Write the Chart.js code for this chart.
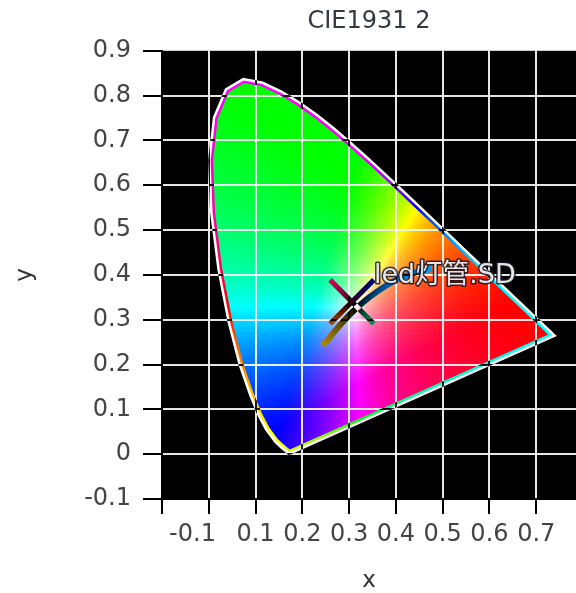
<!DOCTYPE html>
<html><head><meta charset="utf-8">
<script src="https://cdn.jsdelivr.net/npm/chart.js@4.4.1/dist/chart.umd.min.js"></script>
<style>html,body{margin:0;padding:0;background:#fff;}canvas{display:block;}</style>
</head><body>
<canvas id="c" width="576" height="593"></canvas>
<script>
// ---------- data ----------
const chartTitle = 'CIE1931 2';
const xAxisTitle = 'x';
const yAxisTitle = 'y';
const xTickValues = [-0.1, 0, 0.1, 0.2, 0.3, 0.4, 0.5, 0.6, 0.7];
const yTickValues = [-0.1, 0, 0.1, 0.2, 0.3, 0.4, 0.5, 0.6, 0.7, 0.8, 0.9];
const hiddenXTickLabels = [0];
// spectral locus (CIE 1931 2deg), 380..700 nm
const locusX = [0.1741,0.1738,0.1733,0.1726,0.1714,0.1689,0.1644,0.1566,0.1440,0.1241,0.1096,0.0913,0.0687,0.0454,0.0235,0.0082,0.0039,0.0139,0.0389,0.0743,0.1142,0.1547,0.1929,0.2296,0.2658,0.3016,0.3373,0.3731,0.4087,0.4441,0.4788,0.5125,0.5448,0.5752,0.6029,0.6270,0.6658,0.6915,0.7079,0.7190,0.7260,0.7300,0.7334,0.7347];
const locusY = [0.0050,0.0049,0.0048,0.0048,0.0051,0.0069,0.0109,0.0177,0.0297,0.0578,0.0868,0.1327,0.2007,0.2950,0.4127,0.5384,0.6548,0.7502,0.8120,0.8338,0.8262,0.8059,0.7816,0.7543,0.7243,0.6923,0.6589,0.6245,0.5896,0.5547,0.5202,0.4866,0.4544,0.4242,0.3965,0.3725,0.3340,0.3083,0.2920,0.2809,0.2740,0.2700,0.2666,0.2653];
// Planckian locus, from very high CCT down to ~2500 K
const planckX = [0.2430,0.2565,0.2637,0.2807,0.2952,0.3064,0.3221,0.3451,0.3805,0.4053,0.4369,0.4770];
const planckY = [0.2430,0.2577,0.2673,0.2883,0.3048,0.3166,0.3318,0.3516,0.3768,0.3907,0.4041,0.4137];
// measured sample
const sampleX = [0.306];
const sampleY = [0.340];
const sampleNames = ['led灯管.SD'];

// ---------- colour helpers ----------
function chroma(x, y) {
  if (y <= 1e-4) return [0, 0, 0];
  const X = x / y, Y = 1, Z = (1 - x - y) / y;
  let r = 3.2406 * X - 1.5372 * Y - 0.4986 * Z;
  let g = -0.9689 * X + 1.8758 * Y + 0.0415 * Z;
  let b = 0.0557 * X - 0.2040 * Y + 1.0570 * Z;
  r = Math.max(0, r); g = Math.max(0, g); b = Math.max(0, b);
  const m = Math.max(r, g, b) || 1;
  return [r / m * 255, g / m * 255, b / m * 255];
}
let imgCache = null;
function chromaImage(chart) {
  const area = chart.chartArea;
  const xs = chart.scales.x, ys = chart.scales.y;
  const key = [area.left, area.top, area.right, area.bottom, chart.width, chart.height].join(',');
  if (imgCache && imgCache.key === key) return imgCache.canvas;
  const W = chart.width, H = chart.height;
  const off = document.createElement('canvas');
  off.width = W; off.height = H;
  const octx = off.getContext('2d');
  const img = octx.createImageData(W, H);
  for (let py = Math.max(0, Math.floor(area.top)); py < Math.min(H, Math.ceil(area.bottom)); py++) {
    const yv = ys.getValueForPixel(py + 0.5);
    for (let px = Math.max(0, Math.floor(area.left)); px < Math.min(W, Math.ceil(area.right)); px++) {
      const xv = xs.getValueForPixel(px + 0.5);
      const c = chroma(xv, yv);
      const i = (py * W + px) * 4;
      img.data[i] = c[0]; img.data[i + 1] = c[1]; img.data[i + 2] = c[2]; img.data[i + 3] = 255;
    }
  }
  octx.putImageData(img, 0, 0);
  imgCache = { key, canvas: off };
  return off;
}

// ---------- datasets ----------
const locusPts = locusX.map((x, i) => ({ x, y: locusY[i] }));
locusPts.push({ x: locusX[0], y: locusY[0] });
const planckPts = planckX.map((x, i) => ({ x, y: planckY[i] }));
const samplePts = sampleX.map((x, i) => ({ x, y: sampleY[i] }));

const FONT = "'DejaVu Sans', 'Noto Sans CJK SC', sans-serif";

// black plot background + colour fill of the locus (clipped to the dataset's own points)
const plotBackground = {
  id: 'plotBackground',
  beforeDraw(chart) {
    const { ctx, chartArea: a } = chart;
    ctx.save();
    ctx.fillStyle = '#000';
    ctx.fillRect(a.left, a.top, a.right - a.left, a.bottom - a.top);
    const meta = chart.getDatasetMeta(0);
    if (meta && meta.data.length) {
      ctx.beginPath();
      ctx.rect(a.left, a.top, a.right - a.left, a.bottom - a.top);
      ctx.clip();
      ctx.beginPath();
      meta.data.forEach((p, i) => i ? ctx.lineTo(p.x, p.y) : ctx.moveTo(p.x, p.y));
      ctx.closePath();
      ctx.clip();
      ctx.drawImage(chromaImage(chart), 0, 0);
    }
    ctx.restore();
  }
};
// locus outline, Planck curve and marker are drawn inverted (difference with white)
const invertDraw = {
  id: 'invertDraw',
  beforeDatasetDraw(chart, args) { chart.ctx.globalCompositeOperation = 'difference'; },
  afterDatasetDraw(chart, args) { chart.ctx.globalCompositeOperation = 'source-over'; }
};
const sampleLabels = {
  id: 'sampleLabels',
  afterDatasetsDraw(chart) {
    const meta = chart.getDatasetMeta(2);
    const { ctx } = chart;
    ctx.save();
    ctx.font = '27px ' + FONT;
    ctx.textBaseline = 'alphabetic';
    ctx.lineJoin = 'round';
    meta.data.forEach((pt, i) => {
      const tx = pt.x + 22, ty = pt.y - 19;
      ctx.lineWidth = 3;
      ctx.strokeStyle = 'rgba(20,20,30,0.85)';
      ctx.strokeText(sampleNames[i], tx, ty);
      ctx.fillStyle = '#e4e4ea';
      ctx.fillText(sampleNames[i], tx, ty);
    });
    ctx.restore();
  }
};

const gridColor = (edgeVals) => (ctx) => {
  const v = ctx.tick ? ctx.tick.value : null;
  if (v !== null && edgeVals.some(e => Math.abs(e - v) < 1e-9)) return 'rgba(0,0,0,0)';
  return 'rgba(255,255,255,0.9)';
};

new Chart(document.getElementById('c'), {
  type: 'line',
  data: {
    datasets: [
      {
        label: 'locus',
        data: locusPts,
        fill: false,
        borderColor: '#ffffff',
        borderWidth: 5,
        pointRadius: 0,
        tension: 0
      },
      {
        label: 'planck',
        data: planckPts,
        fill: false,
        borderColor: '#ffffff',
        borderWidth: 6,
        pointRadius: 0,
        tension: 0.3
      },
      {
        label: 'sample',
        data: samplePts,
        showLine: false,
        fill: false,
        pointStyle: 'crossRot',
        pointRadius: 31,
        pointBorderWidth: 5,
        pointBorderColor: '#ffffff',
        pointBackgroundColor: '#ffffff'
      }
    ]
  },
  options: {
    responsive: false,
    animation: false,
    events: [],
    layout: { autoPadding: false, padding: { left: 0, right: 0, top: 0, bottom: 0 } },
    plugins: {
      legend: { display: false },
      tooltip: { enabled: false },
      title: {
        display: true, text: chartTitle, fullSize: false,
        color: '#333845', font: { family: FONT, size: 24, weight: 'normal', lineHeight: 1.2 },
        padding: { top: 7, bottom: 15 }
      }
    },
    scales: {
      x: {
        type: 'linear', position: 'bottom', min: -0.1, max: 0.785,
        afterBuildTicks: (s) => { s.ticks = xTickValues.map(v => ({ value: v })); },
        afterFit: (s) => { s.height = 94; s.paddingLeft = 0; s.paddingRight = 0; },
        ticks: {
          autoSkip: false, maxRotation: 0, minRotation: 0, padding: 6,
          color: '#444', font: { family: FONT, size: 24 },
          callback: (v) => {
            if (hiddenXTickLabels.some(h => Math.abs(h - v) < 1e-9)) return '';
            const s = String(Number(v.toFixed(1)));
            return v < 0 ? '        ' + s : s;
          }
        },
        grid: { color: gridColor([-0.1]), lineWidth: 2, tickColor: '#000', tickLength: 15, tickWidth: 2 },
        border: { display: true, color: '#000', width: 2 },
        title: { display: true, text: xAxisTitle, color: '#333', font: { family: FONT, size: 23, lineHeight: 1 }, padding: { top: 0, bottom: 0 } }
      },
      y: {
        type: 'linear', position: 'left', min: -0.1, max: 0.9,
        afterBuildTicks: (s) => { s.ticks = yTickValues.map(v => ({ value: v })); },
        afterFit: (s) => { s.width = 162; s.paddingTop = 0; s.paddingBottom = 0; },
        ticks: {
          autoSkip: false, padding: 12, color: '#444', font: { family: FONT, size: 24 },
          callback: (v) => String(Number(v.toFixed(1)))
        },
        grid: { color: gridColor([-0.1, 0.9]), lineWidth: 2, tickColor: '#000', tickLength: 19, tickWidth: 2 },
        border: { display: true, color: '#000', width: 2 },
        title: { display: true, text: yAxisTitle, color: '#333', font: { family: FONT, size: 23 }, padding: { top: 11, bottom: 0 } }
      }
    }
  },
  plugins: [plotBackground, invertDraw, sampleLabels]
});
</script>
</body></html>
